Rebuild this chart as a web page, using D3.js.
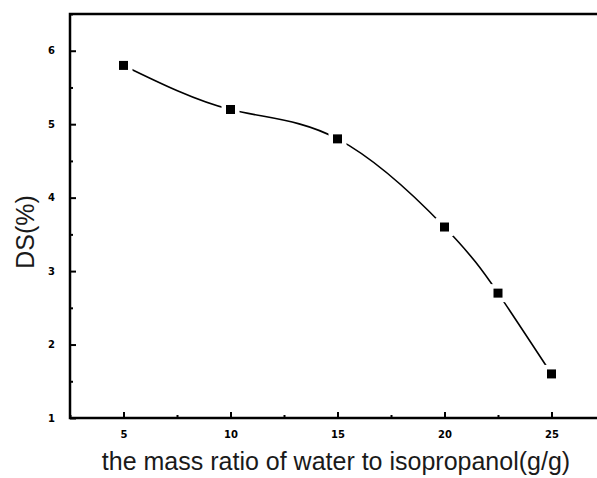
<!DOCTYPE html>
<meta charset="utf-8">
<style>
body { margin: 0; background: #fff; }
.tick text { font-family: "DejaVu Sans", sans-serif; font-weight: bold; font-size: 10px; }
.axis path, .axis line { stroke: #000; stroke-width: 2; }
.title { font-family: "Liberation Sans", Arial, sans-serif; font-size: 25px; fill: #1a1a1a; }
</style>
<body>
<svg width="597" height="478"></svg>
<script src="https://d3js.org/d3.v7.min.js"></script>
<script>

var ratio = [5, 10, 15, 20, 22.5, 25];
var ds = [5.8, 5.2, 4.8, 3.6, 2.7, 1.6];
var xTicks = [5, 10, 15, 20, 25];
var yTicks = [1, 2, 3, 4, 5, 6];

var svg = d3.select("svg"),
    margin = {top: 14, right: -8, bottom: 60, left: 70},
    width = +svg.attr("width") - margin.left - margin.right,
    height = +svg.attr("height") - margin.top - margin.bottom;

var x = d3.scaleLinear().domain([2.5, 27.5]).range([0, width]),
    y = d3.scaleLinear().domain([1, 6.5]).range([height, 0]);

var g = svg.append("g")
    .attr("transform", "translate(" + margin.left + "," + margin.top + ")");

// frame
g.append("rect")
    .attr("width", width)
    .attr("height", height)
    .attr("fill", "none")
    .attr("stroke", "#000")
    .attr("stroke-width", 2.5);

// minor ticks
var xMinor = d3.range(2.5, 27.6, 2.5).filter(function(d) { return xTicks.indexOf(d) < 0; });
var yMinor = d3.range(1.5, 6.6, 1);

g.append("g")
    .attr("class", "axis axis--x")
    .attr("transform", "translate(0," + height + ")")
    .call(d3.axisBottom(x).tickValues(xTicks).tickFormat(d3.format("d")).tickSizeInner(-6).tickSizeOuter(0).tickPadding(13))
    .call(function(a) { a.select(".domain").remove(); });

g.append("g")
    .attr("class", "axis")
    .attr("transform", "translate(0," + height + ")")
    .call(d3.axisBottom(x).tickValues(xMinor).tickSize(-3).tickFormat(""))
    .call(function(a) { a.select(".domain").remove(); });

g.append("g")
    .attr("class", "axis axis--y")
    .call(d3.axisLeft(y).tickValues(yTicks).tickFormat(d3.format("d")).tickSizeInner(-6).tickSizeOuter(0).tickPadding(15))
    .call(function(a) { a.select(".domain").remove(); });

g.append("g")
    .attr("class", "axis")
    .call(d3.axisLeft(y).tickValues(yMinor).tickSize(-3).tickFormat(""))
    .call(function(a) { a.select(".domain").remove(); });

var data = ratio.map(function(r, i) { return {x: r, y: ds[i]}; });

var line = d3.line()
    .x(function(d) { return x(d.x); })
    .y(function(d) { return y(d.y); })
    .curve(d3.curveNatural);

g.append("path")
    .datum(data)
    .attr("fill", "none")
    .attr("stroke", "#000")
    .attr("stroke-width", 1.6)
    .attr("d", line);

// white halo gives the gap between line and marker
g.selectAll(".halo")
    .data(data)
  .enter().append("rect")
    .attr("class", "halo")
    .attr("x", function(d) { return x(d.x) - 9; })
    .attr("y", function(d) { return y(d.y) - 9; })
    .attr("width", 18)
    .attr("height", 18)
    .attr("fill", "#fff");

g.selectAll(".pt")
    .data(data)
  .enter().append("rect")
    .attr("class", "pt")
    .attr("x", function(d) { return x(d.x) - 4.5; })
    .attr("y", function(d) { return y(d.y) - 4.5; })
    .attr("width", 9)
    .attr("height", 9)
    .attr("fill", "#000");

svg.append("text")
    .attr("class", "title")
    .attr("text-anchor", "middle")
    .attr("x", 336)
    .attr("y", 470)
    .text("the mass ratio of water to isopropanol(g/g)");

svg.append("text")
    .attr("class", "title")
    .attr("text-anchor", "middle")
    .attr("transform", "translate(34,232) rotate(-90)")
    .text("DS(%)");

</script>
